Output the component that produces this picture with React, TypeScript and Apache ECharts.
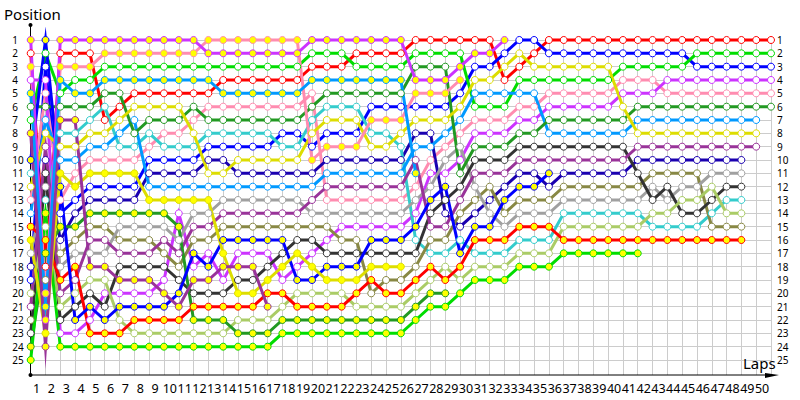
import React, { useEffect, useRef } from "react";
import * as echarts from "echarts";

const lapLabels = Array.from({ length: 50 }, (_, i) => String(i + 1));

const wRed = [2,18,2,2,2,7,6,5,5,5, 5,5,5,4,4,4,4,4,4,3, 3,3,2,2,2,2,1,1,1,1, 1,1,4,3,2,1,1,1,1,1, 1,1,1,1,1,1,1,1,1,1,1];
const wGreen = [7,2,5,4,4,3,3,3,3,3, 3,3,3,3,3,3,3,3,3,2, 2,2,3,3,3,3,2,2,2,2, 6,6,6,4,4,4,4,4,4,4, 3,3,3,3,3,2,2,2,2,2,2];
const wBlue = [19,3,14,13,12,12,12,12,10,10, 10,10,9,9,9,9,9,8,8,9, 8,8,8,6,6,6,6,6,6,5, 3,3,2,1,1,2,2,2,2,2, 2,2,2,2,2,3,3,3,3,3,3];
const wMagenta = [4,4,23,23,22,20,20,20,20,19, 14,18,17,19,17,17,17,19,18,17, 16,15,15,15,15,15,14,11,11,10, 8,8,8,7,7,6,6,6,6,6, 5,5,5,4,4,4,4,4,4,4,4];
const wPink = [13,5,13,11,10,10,10,10,9,8, 8,7,6,6,6,6,6,6,6,5, 13,13,13,13,13,13,12,10,9,8, 7,7,7,6,6,5,5,5,5,5, 4,4,4,5,5,5,5,5,5,5,5];
const wDkGreen = [6,6,6,6,6,5,5,8,7,7, 7,6,7,7,7,7,7,7,7,6, 5,5,5,5,5,5,3,3,3,11, 9,9,9,8,8,7,7,7,7,7, 7,6,6,6,6,6,6,6,6,6,6];
const wSky = [14,7,10,10,9,9,8,7,12,12, 12,12,12,12,12,12,12,12,12,12, 11,11,11,11,11,11,9,9,8,7, 5,5,5,5,5,8,8,8,8,8, 8,7,7,7,7,7,7,7,7,7];
const wYellow = [12,8,9,9,8,8,7,6,6,6, 6,8,11,11,10,10,10,10,10,8, 7,7,7,9,9,8,7,7,7,6, 4,4,3,2,3,3,3,3,3,3, 6,8,8,8,8,8,8,8,8,8];
const wPurple = [21,9,20,19,16,16,17,17,17,16, 17,15,15,14,14,14,14,14,14,13, 12,12,12,12,12,12,10,15,15,13, 11,11,11,10,10,10,10,10,10,10, 10,9,9,9,9,9,9,9,9,9];
const wDkBlue = [18,10,16,14,13,13,13,13,11,11, 11,11,10,10,11,11,11,11,11,11, 10,10,10,10,10,10,8,8,14,15, 14,13,12,11,11,12,11,11,11,11, 11,10,10,10,10,10,10,10,10];
const wTeal = [11,13,8,8,7,6,9,9,8,9, 9,9,8,8,8,8,8,9,9,7, 6,6,6,8,8,9,16,17,17,16, 17,17,17,16,16,16,14,14,14,14, 14,14,15,15,15,15,14,13,13];
const wGray = [17,12,18,17,17,17,15,15,15,15, 16,14,14,13,13,13,13,13,13,14, 14,14,14,14,14,14,13,12,10,9, 12,14,15,14,14,14,13,13,13,13, 13,13,12,13,12,12,11,11,11];
const wOlive = [22,19,17,16,15,15,16,16,16,17, 18,16,16,15,15,15,15,15,15,15, 15,16,16,20,19,19,18,16,16,14, 13,12,14,13,13,13,12,12,12,12, 12,12,11,11,11,11,15,15,15];
const wDkGrey = [23,11,22,21,20,21,18,18,18,18, 19,20,20,20,19,19,18,17,16,16, 17,17,17,17,17,17,17,14,13,12, 10,10,10,9,9,9,9,9,9,9, 9,11,13,12,14,14,13,12,12];
const wLightOlive = [20,15,21,20,19,19,22,23,23,23, 23,23,23,23,22,22,22,21,20,20, 20,20,21,21,21,21,20,19,18,19, 18,18,18,17,17,17,15,15,15,15, 15,15,14,14,13,13,12,14,14];
const yRed = [15,16,19,18,23,23,23,22,22,22, 22,21,21,21,21,21,20,20,21,21, 21,21,20,19,20,20,19,18,19,18, 16,16,16,15,15,15,16,16,16,16, 16,16,16,16,16,16,16,16,16];
const yGreen = [25,14,24,24,24,24,24,24,24,24, 24,24,24,24,24,24,24,23,23,23, 23,23,23,23,23,23,22,21,21,20, 19,19,19,18,18,18,17,17,17,17, 17,17];
const yDkGreen = [24,17,15,15,14,14,14,14,14,14, 15,22,22,22,23,23,23,22,22,22, 22,22,22,22,22,22,21,20,20];
const yBlue = [10,1,12,22,21,22,21,21,21,21, 20,17,18,16,16,16,16,16,19,19, 18,18,18,16,16,16,15,13,12,17, 15,15,13,12,12,11];
const yPink = [3,20,3,3,3,2,2,2,2,2, 2,2,1,1,1,1,1,1,1,10, 9,9,9,7,7,7,5,5,5,4];
const yMagenta = [1,22,1,1,1,1,1,1,1,1, 1,1,2,2,2,2,2,2,2,1, 1,1,1,1,1,1,4,4,4,3, 2,2,1];
const ySky = [5,21,4,5,5,4,4,4,4,4, 4,4,4,5,5,5,5,5,5,4, 4,4,4,4,4,4,11];
const yYellow = [16,23,11,12,11,11,11,11,13,13, 13,13,13,17,20,20,19,18,17,18, 19,19,19,18,18,18];
const yPurple = [8,24,7,7,18,18,19,19,19,20, 21,19,19,18,18,18,21];

const RED = "#ff0000", GREEN = "#00dd00", BLUE = "#0000ff", MAGENTA = "#cc33ff", PINK = "#ff8cb0";
const DKGREEN = "#229922", SKY = "#0099ff", YELLOW = "#dddd00", PURPLE = "#993399", DKBLUE = "#1a00b0";
const TEAL = "#33cccc", GRAY = "#a0a0a0", OLIVE = "#888844", DKGREY = "#333333", LIGHTOLIVE = "#aacc66";

const WHITE = "#ffffff", YFILL = "#ffff00";
const cars: [string, number[], string, string][] = [
  ["wRed", wRed, RED, WHITE],
  ["wBlue", wBlue, BLUE, WHITE],
  ["wGreen", wGreen, GREEN, WHITE],
  ["wPink", wPink, PINK, WHITE],
  ["wMagenta", wMagenta, MAGENTA, WHITE],
  ["wDkBlue", wDkBlue, DKBLUE, WHITE],
  ["wTeal", wTeal, TEAL, WHITE],
  ["wOlive", wOlive, OLIVE, WHITE],
  ["wGray", wGray, GRAY, WHITE],
  ["wDkGrey", wDkGrey, DKGREY, WHITE],
  ["wLightOlive", wLightOlive, LIGHTOLIVE, WHITE],
  ["wPurple", wPurple, PURPLE, WHITE],
  ["wSky", wSky, SKY, WHITE],
  ["wDkGreen", wDkGreen, DKGREEN, WHITE],
  ["wYellow", wYellow, YELLOW, WHITE],
  ["yRed", yRed, RED, YFILL],
  ["yDkGreen", yDkGreen, DKGREEN, YFILL],
  ["yGreen", yGreen, GREEN, YFILL],
  ["yBlue", yBlue, BLUE, YFILL],
  ["yPink", yPink, PINK, YFILL],
  ["yMagenta", yMagenta, MAGENTA, YFILL],
  ["ySky", ySky, SKY, YFILL],
  ["yYellow", yYellow, YELLOW, YFILL],
  ["yPurple", yPurple, PURPLE, YFILL],
];

const FONT = "'Noto Sans', sans-serif";
const LEFT = 30.7, WIDTH = 740.3;

export default function App() {
  const ref = useRef<HTMLDivElement>(null);
  useEffect(() => {
    document.body.style.margin = "0";
    const chart = echarts.init(ref.current!, undefined, { renderer: "svg" });
    chart.setOption({
      animation: false,
      backgroundColor: "#ffffff",
      grid: [
        { left: LEFT, width: WIDTH, top: 40, height: 320 },
        { left: LEFT, width: WIDTH, top: 40, height: 335 },
        { left: LEFT - 1.5, width: WIDTH, top: 40, height: 335 },
      ],
      xAxis: [
        { type: "value", gridIndex: 0, min: 0, max: 50, interval: 1, show: false },
        {
          type: "value", gridIndex: 1, min: 0, max: 50, interval: 1,
          axisLine: { show: false }, axisTick: { show: false }, axisLabel: { show: false },
          splitLine: { show: true, lineStyle: { color: "#cccccc", width: 1 } },
        },
        {
          type: "category", gridIndex: 2, data: lapLabels, boundaryGap: true,
          axisLine: { show: false }, axisTick: { show: false }, splitLine: { show: false },
          axisLabel: { interval: 0, margin: 7, fontFamily: FONT, fontSize: 12.5, color: "#000000" },
        },
      ],
      yAxis: [
        {
          type: "value", gridIndex: 0, inverse: true, min: 1, max: 25, interval: 1,
          axisLine: { show: false }, axisTick: { show: false },
          splitLine: { show: true, lineStyle: { color: "#cccccc", width: 1 } },
          axisLabel: { margin: 18.5, align: "left", fontFamily: FONT, fontSize: 10, color: "#000000" },
        },
        {
          type: "value", gridIndex: 0, inverse: true, min: 1, max: 25, interval: 1, position: "right",
          axisLine: { show: false }, axisTick: { show: false }, splitLine: { show: false },
          axisLabel: { margin: 6, align: "left", fontFamily: FONT, fontSize: 10, color: "#000000" },
        },
        { type: "value", gridIndex: 1, min: 0, max: 1, show: false },
        { type: "value", gridIndex: 2, min: 0, max: 1, show: false },
      ],
      series: cars.map(([name, values, color, fill]) => ({
        name,
        type: "line",
        xAxisIndex: 0,
        yAxisIndex: 0,
        data: values.map((p, i) => [i, p]),
        symbol: "circle",
        symbolSize: 7,
        showSymbol: true,
        showAllSymbol: true,
        clip: false,
        lineStyle: { color, width: 3, join: "miter", miterLimit: 30, cap: "butt" },
        itemStyle: { color: fill, borderColor: color, borderWidth: 1, opacity: 1 },
      })),
      graphic: [
        { type: "line", z: 1, shape: { x1: 30.5, y1: 25, x2: 30.5, y2: 375 }, style: { stroke: "#000000", lineWidth: 1 } },
        { type: "line", z: 1, shape: { x1: 30.5, y1: 375, x2: 772, y2: 375 }, style: { stroke: "#000000", lineWidth: 1 } },
        { type: "circle", z: 1, shape: { cx: 30.5, cy: 25, r: 2 }, style: { fill: "#000000" } },
        { type: "circle", z: 1, shape: { cx: 30.5, cy: 375, r: 2 }, style: { fill: "#000000" } },
        { type: "polygon", z: 1, shape: { points: [[765, 373], [779, 375], [765, 378]] }, style: { fill: "#000000" } },
        { type: "text", z: 1, x: 4, y: 6, style: { text: "Position", font: "15px " + FONT, fill: "#000000" } },
        { type: "text", z: 1, x: 743, y: 355, style: { text: "Laps", font: "15px " + FONT, fill: "#000000" } },
      ],
    });
    return () => chart.dispose();
  }, []);
  return <div ref={ref} style={{ width: 800, height: 400 }} />;
}
